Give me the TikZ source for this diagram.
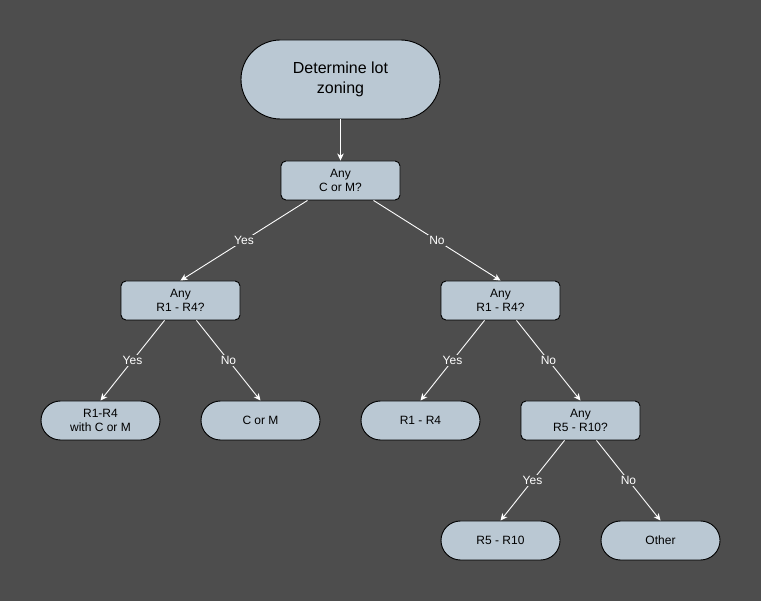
\documentclass[tikz,border=0pt]{standalone}
\usepackage{fontspec}
\setmainfont{Liberation Sans}
\usetikzlibrary{arrows.meta}
\definecolor{canvas}{RGB}{77,77,77}
\definecolor{boxfill}{RGB}{186,200,211}
\begin{document}
\begin{tikzpicture}[x=1pt,y=-1pt,
  every node/.style={font=\fontsize{12}{14}\selectfont},
  question/.style={draw=black,fill=boxfill,line width=0.9pt,rounded corners=5pt,
    minimum width=119pt,minimum height=39pt,align=center,inner sep=1pt},
  outcome/.style={draw=black,fill=boxfill,line width=0.9pt,rounded corners=19.5pt,
    minimum width=119pt,minimum height=39pt,align=center,inner sep=1pt},
  link/.style={draw=white,line width=0.9pt,-{Stealth[length=7pt,width=6.5pt,inset=2pt]}},
  tag/.style={fill=canvas,text=white,inner sep=1pt,pos=0.5}]
\fill[canvas] (0,0) rectangle (761,601);
\useasboundingbox (0,0) rectangle (761,601);

\node[outcome,rounded corners=39.5pt,minimum width=199pt,minimum height=79pt,
  font=\fontsize{16}{20}\selectfont] (start) at (340.5,79.5) {Determine lot\\zoning};

\node[question] (q1) at (340.5,180.5) {Any\\C or M?};
\node[question] (q2a) at (180.5,300.5) {Any\\R1 - R4?};
\node[question] (q2b) at (500.5,300.5) {Any\\R1 - R4?};

\node[outcome] (withcm) at (100.5,420.5) {R1-R4\\with C or M};
\node[outcome] (corm) at (260.5,420.5) {C or M};
\node[outcome] (r14) at (420.5,420.5) {R1 - R4};
\node[question] (q3) at (580.5,420.5) {Any\\R5 - R10?};

\node[outcome] (r510) at (500.5,540.5) {R5 - R10};
\node[outcome] (other) at (660.5,540.5) {Other};

\draw[link] (start.south) -- (q1.north);

\draw[link] ([xshift=-33pt]q1.south) -- node[tag] {Yes} (q2a.north);
\draw[link] ([xshift=33pt]q1.south) -- node[tag] {No} (q2b.north);

\draw[link] ([xshift=-16pt]q2a.south) -- node[tag] {Yes} (withcm.north);
\draw[link] ([xshift=16pt]q2a.south) -- node[tag] {No} (corm.north);

\draw[link] ([xshift=-16pt]q2b.south) -- node[tag] {Yes} (r14.north);
\draw[link] ([xshift=16pt]q2b.south) -- node[tag] {No} (q3.north);

\draw[link] ([xshift=-16pt]q3.south) -- node[tag] {Yes} (r510.north);
\draw[link] ([xshift=16pt]q3.south) -- node[tag] {No} (other.north);
\end{tikzpicture}
\end{document}
